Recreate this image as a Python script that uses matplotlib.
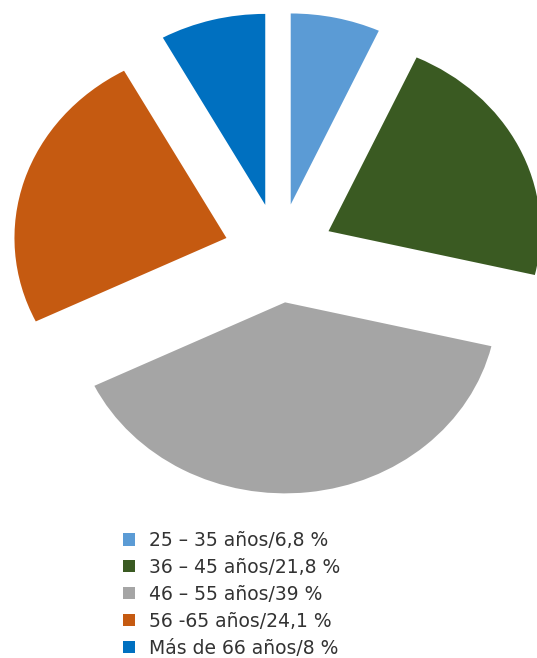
import matplotlib
matplotlib.use("Agg")
import matplotlib.pyplot as plt
from matplotlib.patches import Patch

plt.rcParams['font.family'] = ['DejaVu Sans']

# ── Data ──
labels = ["25 – 35 años/6,8 %", "36 – 45 años/21,8 %", "46 – 55 años/39 %",
          "56 -65 años/24,1 %", "Más de 66 años/8 %"]
shares = [6.8, 21.8, 39, 24.1, 8]
colors = ["#5b9bd5", "#3a5a22", "#a5a5a5", "#c55a11", "#0070c0"]

W, H = 537, 658
fig = plt.figure(figsize=(W / 100, H / 100), dpi=100)
fig.patch.set_facecolor("white")
ax = fig.add_axes([0, 0, 1, 1])

ax.pie(shares, colors=colors, startangle=90, counterclock=False,
       explode=[0.26] * len(shares), radius=1,
       wedgeprops=dict(linewidth=0))

# the original pie is slightly stretched horizontally
rx, ry = 212.0, 191.0
cx, cy = 279.0, 253.0
ax.set_aspect('auto')
ax.set_xlim(-cx / rx, (W - cx) / rx)
ax.set_ylim(-(H - cy) / ry, cy / ry)
ax.axis('off')

handles = [Patch(facecolor=c, edgecolor='none') for c in colors]
fig.legend(handles, labels, loc='upper left', bbox_to_anchor=(123 / W, 1 - 531 / H),
           frameon=False, fontsize=13.5, borderpad=0, borderaxespad=0,
           handlelength=0.64, handleheight=0.64, handletextpad=0.75,
           labelspacing=0.42, labelcolor='#333333')

fig.savefig("out.png", dpi=100, facecolor="white")
